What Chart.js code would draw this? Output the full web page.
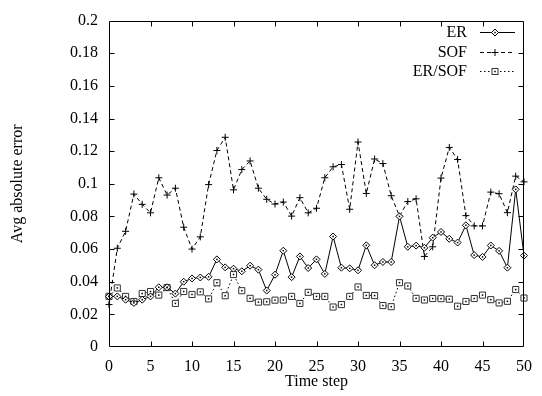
<!DOCTYPE html>
<html>
<head>
<meta charset="utf-8">
<script src="https://cdn.jsdelivr.net/npm/chart.js@4/dist/chart.umd.min.js"></script>
<style>
html,body{margin:0;padding:0;background:#fff;}
#wrap{width:542px;height:396px;}
</style>
</head>
<body>
<div id="wrap"><canvas id="c" width="542" height="396"></canvas></div>
<script>
const steps = [0,1,2,3,4,5,6,7,8,9,10,11,12,13,14,15,16,17,18,19,20,21,22,23,24,25,26,27,28,29,30,31,32,33,34,35,36,37,38,39,40,41,42,43,44,45,46,47,48,49,50];
const erValues = [0.031,0.031,0.029,0.027,0.029,0.031,0.0366,0.0366,0.0327,0.040,0.042,0.0426,0.043,0.0537,0.0488,0.048,0.0464,0.0498,0.0474,0.0346,0.0443,0.059,0.0428,0.0555,0.0484,0.0537,0.0448,0.0677,0.0486,0.0482,0.047,0.0623,0.0501,0.0521,0.0521,0.080,0.0614,0.0621,0.0608,0.067,0.0705,0.0663,0.064,0.0746,0.0563,0.0552,0.0622,0.0589,0.0486,0.0966,0.056];
const sofValues = [0.026,0.0605,0.0709,0.0937,0.0874,0.0822,0.1037,0.0931,0.0973,0.0734,0.060,0.0675,0.0995,0.1204,0.1285,0.0963,0.1087,0.114,0.0973,0.0905,0.0876,0.0888,0.0802,0.0915,0.0822,0.085,0.1037,0.1104,0.1118,0.0844,0.1256,0.0941,0.1152,0.1124,0.0927,0.0802,0.0891,0.0908,0.0555,0.0614,0.1035,0.1223,0.1149,0.0805,0.0742,0.0742,0.0949,0.0939,0.0823,0.1047,0.1012];
const erSofValues = [0.031,0.0362,0.031,0.0279,0.0328,0.034,0.0318,0.0364,0.0267,0.034,0.0322,0.0338,0.0295,0.0394,0.0314,0.0444,0.0345,0.0298,0.0275,0.0277,0.0287,0.0288,0.031,0.0267,0.0335,0.031,0.031,0.0245,0.026,0.031,0.0368,0.0316,0.0315,0.0254,0.0247,0.0394,0.0374,0.0298,0.0288,0.0297,0.0296,0.0293,0.025,0.0279,0.0297,0.0318,0.029,0.027,0.028,0.0352,0.030];
const seriesLabels = ['ER','SOF','ER/SOF'];
const xTitle = 'Time step';
const yTitle = 'Avg absolute error';

const FONT = 'Liberation Serif';

function pts(vals){ return steps.map((s,i)=>({x:s,y:vals[i]})); }

const frameTicks = {
  id:'frameTicks',
  afterDatasetsDraw(chart){
    const {ctx, chartArea:a, scales:{x,y}} = chart;
    ctx.save();
    ctx.strokeStyle='#000'; ctx.lineWidth=1; ctx.setLineDash([]);
    const L=Math.round(a.left)+0.5, R=Math.round(a.right)-0.5, T=Math.round(a.top)+0.5, B=Math.round(a.bottom)-0.5;
    ctx.beginPath();
    ctx.rect(L,T,R-L,B-T);
    const tl=5;
    x.ticks.forEach(t=>{
      const px=Math.round(x.getPixelForValue(t.value))+0.5;
      if (px<=L+1||px>=R-1) return;
      ctx.moveTo(px,B); ctx.lineTo(px,B-tl);
      ctx.moveTo(px,T); ctx.lineTo(px,T+tl);
    });
    y.ticks.forEach(t=>{
      const py=Math.round(y.getPixelForValue(t.value))+0.5;
      if (py<=T+1||py>=B-1) return;
      ctx.moveTo(L,py); ctx.lineTo(L+tl,py);
      ctx.moveTo(R,py); ctx.lineTo(R-tl,py);
    });
    ctx.stroke();
    ctx.fillStyle='#000';
    [0,2].forEach(di=>{
      chart.getDatasetMeta(di).data.forEach(el=>{
        ctx.fillRect(el.x-0.75,el.y-0.75,1.5,1.5);
      });
    });
    ctx.restore();
  }
};

function drawMarker(ctx, style, cx, cy){
  ctx.save();
  ctx.setLineDash([]);
  ctx.lineWidth=1;
  ctx.strokeStyle='#000';
  if (style==='rectRot'){
    ctx.beginPath();
    ctx.moveTo(cx,cy-3.5); ctx.lineTo(cx+3.5,cy); ctx.lineTo(cx,cy+3.5); ctx.lineTo(cx-3.5,cy); ctx.closePath();
    ctx.fillStyle='#fff'; ctx.fill(); ctx.stroke();
    ctx.fillStyle='#000'; ctx.fillRect(cx-0.75,cy-0.75,1.5,1.5);
  } else if (style==='cross'){
    ctx.beginPath();
    ctx.moveTo(cx-3.5,cy); ctx.lineTo(cx+3.5,cy); ctx.moveTo(cx,cy-3.5); ctx.lineTo(cx,cy+3.5);
    ctx.stroke();
  } else {
    ctx.strokeStyle='#333';
    ctx.fillStyle='#fff';
    ctx.fillRect(cx-3,cy-3,6,6);
    ctx.strokeRect(cx-3,cy-3,6,6);
    ctx.fillStyle='#000'; ctx.fillRect(cx-0.75,cy-0.75,1.5,1.5);
  }
  ctx.restore();
}

const keyPlugin = {
  id:'keyPlugin',
  afterDraw(chart){
    const ctx=chart.ctx;
    const rows=[32,52,71];
    ctx.save();
    ctx.font='16px "'+FONT+'"';
    ctx.textAlign='right'; ctx.textBaseline='middle';
    chart.data.datasets.forEach((ds,i)=>{
      const yy=rows[i];
      ctx.fillStyle='#000';
      ctx.fillText(ds.label,467,yy+1);
      ctx.beginPath();
      ctx.strokeStyle='#000'; ctx.lineWidth=1;
      ctx.setLineDash(ds.borderDash||[]);
      ctx.moveTo(480,yy+0.5); ctx.lineTo(515,yy+0.5);
      ctx.stroke();
      drawMarker(ctx, ds.pointStyle, 495, yy+0.5);
    });
    ctx.restore();
  }
};

new Chart(document.getElementById('c'), {
  type:'line',
  data:{
    datasets:[
      {label:seriesLabels[0], data:pts(erValues), borderColor:'#000', borderWidth:1, pointStyle:'rectRot', pointRadius:3.5, pointBorderWidth:1, pointBackgroundColor:'#fff', pointBorderColor:'#000', tension:0, clip:false},
      {label:seriesLabels[1], data:pts(sofValues), borderColor:'#000', borderWidth:1, borderDash:[4,3], pointStyle:'cross', pointRadius:3.5, pointBorderWidth:1, pointBorderColor:'#000', tension:0, clip:false},
      {label:seriesLabels[2], data:pts(erSofValues), borderColor:'#000', borderWidth:1, borderDash:[1.5,2.5], pointStyle:'rect', pointRadius:4.3, pointBorderWidth:1, pointBackgroundColor:'#fff', pointBorderColor:'#333', tension:0, clip:false}
    ]
  },
  options:{
    responsive:false,
    animation:false,
    events:[],
    layout:{padding:{left:0,right:12,top:12,bottom:0}},
    plugins:{legend:{display:false}, tooltip:{enabled:false}},
    scales:{
      x:{
        type:'linear', min:0, max:50,
        grid:{display:false, drawTicks:false},
        border:{display:false},
        ticks:{stepSize:5, padding:10, color:'#000', font:{family:FONT,size:16}, maxRotation:0, autoSkip:false},
        title:{display:true, text:xTitle, color:'#000', font:{family:FONT,size:16}, padding:{top:0,bottom:5}},
        afterFit(s){ s.height=49; }
      },
      y:{
        type:'linear', min:0, max:0.2,
        grid:{display:false, drawTicks:false},
        border:{display:false},
        ticks:{stepSize:0.02, padding:11, color:'#000', font:{family:FONT,size:16}, callback:v=>String(+(+v).toFixed(2))},
        title:{display:true, text:yTitle, color:'#000', font:{family:FONT,size:16}, padding:{top:8,bottom:0}},
        afterFit(s){ s.width=109; }
      }
    }
  },
  plugins:[frameTicks, keyPlugin]
});
</script>
</body>
</html>
